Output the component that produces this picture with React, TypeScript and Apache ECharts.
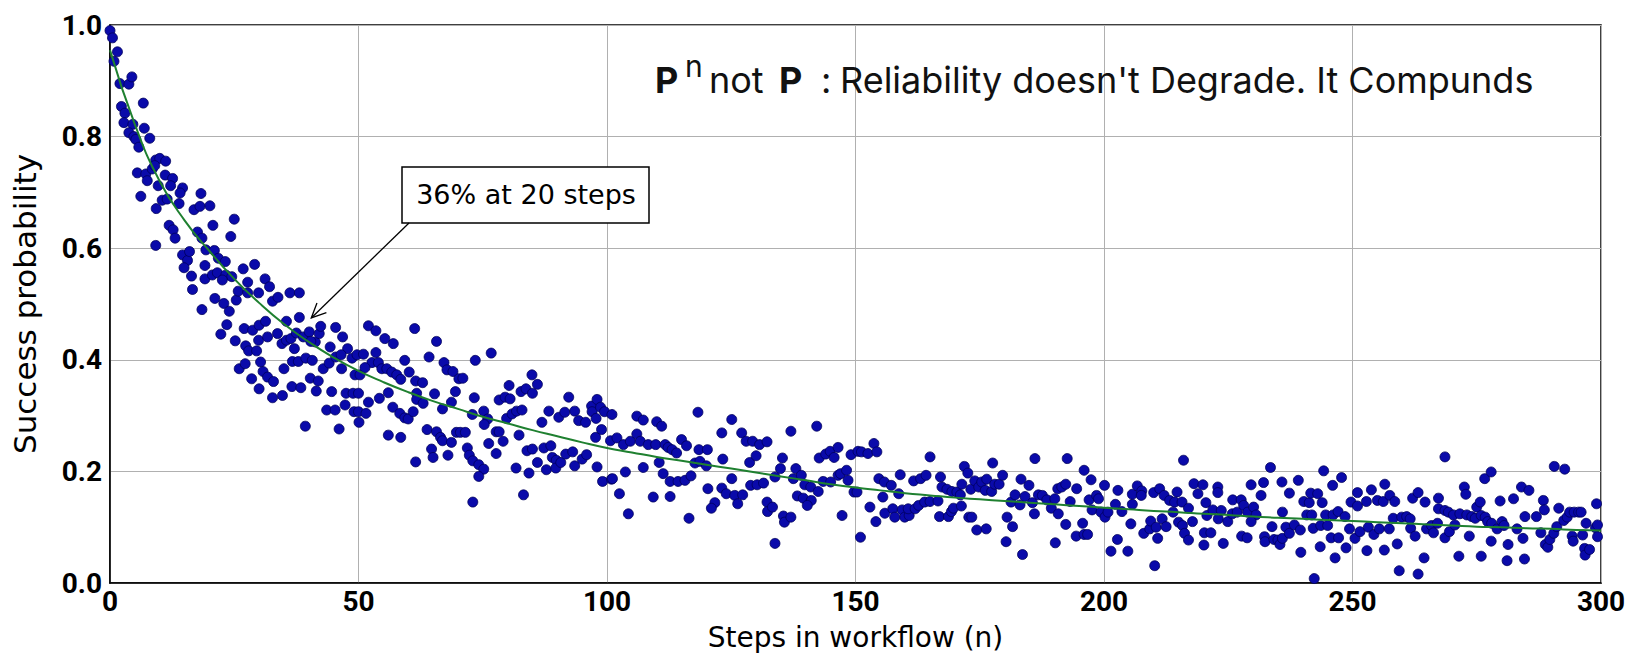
import { useEffect, useRef } from "react";
import * as echarts from "echarts";

// Axis ticks
const xTickValues = [0, 50, 100, 150, 200, 250, 300];
const yTickValues = [0, 0.2, 0.4, 0.6, 0.8, 1.0];

// Observed success rates [steps, probability], grouped by step range
const runsSteps0to50 = [
  [0, 0.99], [0.5, 0.977], [1.5, 0.952], [0.8, 0.935], [2, 0.895], [3.8, 0.894], [4.4, 0.907], [2.3, 0.854],
  [3, 0.842], [2.8, 0.825], [4.6, 0.822], [3.8, 0.807], [4.8, 0.8], [6.7, 0.86], [6.9, 0.815], [8, 0.797],
  [5.2, 0.795], [5.8, 0.781], [5.5, 0.735], [7.2, 0.733], [6.2, 0.693], [7.5, 0.721], [9.2, 0.758], [10, 0.761],
  [11.2, 0.756], [8.5, 0.742], [9, 0.748], [9.7, 0.712], [11.1, 0.731], [12.6, 0.725], [12.2, 0.712], [14.6, 0.708],
  [14.1, 0.699], [10.5, 0.686], [11.5, 0.688], [9.3, 0.671], [13.9, 0.68], [9.2, 0.605], [11.9, 0.641], [12.7, 0.633],
  [13.1, 0.618], [16.9, 0.669], [18.1, 0.675], [18.3, 0.698], [20.1, 0.676], [20.7, 0.641], [25, 0.652], [24.3, 0.621],
  [17.6, 0.629], [18.5, 0.618], [14.6, 0.588], [15.6, 0.578], [14.9, 0.565], [16, 0.594], [16.4, 0.55], [16.6, 0.526],
  [19.3, 0.597], [21, 0.596], [19.1, 0.569], [19.1, 0.545], [20.6, 0.552], [21.8, 0.582], [23.2, 0.576], [21.6, 0.556],
  [23.3, 0.552], [24.5, 0.549], [22.6, 0.543], [21.1, 0.51], [22.9, 0.501], [24, 0.487], [23.5, 0.463], [18.5, 0.49],
  [22.3, 0.446], [25.4, 0.507], [25.8, 0.523], [26.8, 0.563], [29.1, 0.571], [27.7, 0.539], [27.7, 0.52], [29.9, 0.52],
  [31.2, 0.545], [32.1, 0.531], [32.7, 0.505], [33.8, 0.512], [36.2, 0.52], [38.1, 0.52], [38.1, 0.476], [35.5, 0.469],
  [25.2, 0.434], [27, 0.456], [28.7, 0.453], [30, 0.462], [31.3, 0.469], [29.9, 0.435], [31.7, 0.441], [33.7, 0.447],
  [34.6, 0.429], [27.3, 0.425], [27.9, 0.416], [29.5, 0.416], [26, 0.384], [27.2, 0.393], [30.3, 0.396], [28.5, 0.366],
  [30.8, 0.379], [31.7, 0.369], [32.9, 0.361], [30, 0.348], [32.7, 0.332], [34.7, 0.336], [35, 0.384], [35.5, 0.435],
  [36.4, 0.438], [37.1, 0.42], [36.7, 0.397], [37.9, 0.397], [39.4, 0.403], [40.7, 0.399], [37.5, 0.448], [38.9, 0.441],
  [40.1, 0.45], [41.3, 0.432], [42.1, 0.447], [42.4, 0.46], [40.4, 0.433], [36.6, 0.352], [38.4, 0.35], [39.3, 0.281],
  [40.3, 0.367], [41.9, 0.362], [41.5, 0.344], [42.9, 0.384], [44.1, 0.394], [45.4, 0.458], [46.8, 0.441], [47.8, 0.42],
  [44.3, 0.423], [45.4, 0.405], [46.6, 0.384], [46.5, 0.409], [48.7, 0.403], [49.7, 0.409], [44.6, 0.343], [43.6, 0.31],
  [45.3, 0.31], [46.1, 0.276], [47.5, 0.34], [48.9, 0.34], [47.3, 0.319], [49.1, 0.307], [49.3, 0.373], [50.1, 0.288],
];

const runsSteps50to100 = [
  [51, 0.41], [50.3, 0.373], [50, 0.34], [50, 0.307], [51.5, 0.304], [52, 0.461], [53.5, 0.452], [55.3, 0.438],
  [57, 0.429], [53.5, 0.413], [52.7, 0.395], [51.3, 0.386], [54, 0.395], [54.7, 0.384], [55.7, 0.384], [56.7, 0.378],
  [57.7, 0.373], [58.5, 0.365], [59.3, 0.399], [60.2, 0.378], [61.3, 0.456], [61.5, 0.362], [62.9, 0.359], [52, 0.324],
  [54.2, 0.331], [56, 0.341], [56.9, 0.315], [58.3, 0.304], [59.3, 0.296], [60, 0.294], [61, 0.307], [61.7, 0.34],
  [61.7, 0.329], [63, 0.322], [56, 0.265], [58.5, 0.261], [61.5, 0.217], [64.2, 0.405], [65.7, 0.433], [65.3, 0.339],
  [63.8, 0.275], [65.7, 0.271], [66.5, 0.261], [66.9, 0.255], [66.9, 0.312], [64.7, 0.24], [65, 0.225], [67.2, 0.395],
  [67.8, 0.382], [69, 0.379], [70.2, 0.366], [71, 0.367], [69.5, 0.343], [68.7, 0.324], [68.7, 0.252], [68, 0.229],
  [69.7, 0.27], [70.5, 0.27], [71.5, 0.27], [71.9, 0.242], [72.3, 0.229], [73, 0.219], [74.2, 0.212], [75.2, 0.204],
  [74.2, 0.191], [73, 0.145], [73.3, 0.332], [73.5, 0.399], [72.9, 0.302], [75.2, 0.308], [76, 0.294], [75.3, 0.284],
  [76.7, 0.412], [76.2, 0.25], [77.7, 0.271], [78.3, 0.271], [79.1, 0.254], [77.7, 0.232], [78.3, 0.328], [79.5, 0.333],
  [80.3, 0.354], [80.5, 0.33], [79.8, 0.295], [80.9, 0.303], [81.8, 0.308], [82.3, 0.265], [81.7, 0.206], [82.9, 0.31],
  [82.7, 0.343], [83.7, 0.348], [84.9, 0.373], [85, 0.34], [86, 0.356], [83.2, 0.158], [83.9, 0.237], [85, 0.24],
  [86, 0.216], [84.3, 0.197], [86.9, 0.288], [87.3, 0.242], [87.8, 0.203], [88.3, 0.308], [88.7, 0.246], [89, 0.225],
  [89.8, 0.22], [89.7, 0.206], [90.3, 0.297], [90.7, 0.216], [91.7, 0.231], [92.3, 0.333], [91.5, 0.306], [93.1, 0.235],
  [93.5, 0.21], [93.5, 0.308], [94.3, 0.291], [95, 0.222], [95.7, 0.288], [95.9, 0.23], [96.9, 0.317], [97, 0.307],
  [98, 0.329], [97.8, 0.295], [97.7, 0.261], [98, 0.208], [98.7, 0.315], [98.9, 0.275], [99.1, 0.182], [99.5, 0.307],
  [100.7, 0.255], [100.9, 0.186],
];

const runsSteps100to150 = [
  [102, 0.26], [101, 0.302], [101.1, 0.187], [102.5, 0.16], [103.7, 0.199], [104.3, 0.124], [103.3, 0.248], [104.7, 0.254],
  [106, 0.299], [107.3, 0.292], [106, 0.267], [106.7, 0.254], [107.3, 0.207], [108.3, 0.248], [110, 0.289], [111, 0.281],
  [109.8, 0.248], [110.5, 0.216], [111.3, 0.196], [111.7, 0.248], [112.3, 0.243], [113.1, 0.239], [114, 0.233], [112.7, 0.182],
  [114.3, 0.182], [109.3, 0.154], [112.7, 0.155], [115, 0.257], [116, 0.246], [115.7, 0.184], [116.9, 0.192], [116.5, 0.116],
  [118.3, 0.306], [118.5, 0.239], [120.2, 0.239], [117.7, 0.215], [118.7, 0.218], [120, 0.21], [120.3, 0.169], [121.7, 0.144],
  [121, 0.134], [123.1, 0.269], [123.3, 0.222], [123.1, 0.17], [124, 0.16], [125.1, 0.293], [125.1, 0.187], [125.7, 0.157],
  [126.3, 0.142], [127.3, 0.158], [127.1, 0.269], [128, 0.254], [129.3, 0.254], [130.7, 0.248], [132.2, 0.253], [128.7, 0.216],
  [130, 0.228], [128.9, 0.175], [130.2, 0.176], [131.5, 0.179], [132.2, 0.145], [132.3, 0.128], [133.3, 0.136], [133.8, 0.071],
  [133.8, 0.19], [134.9, 0.205], [135.3, 0.224], [135.5, 0.12], [135.7, 0.109], [137, 0.118], [137, 0.272], [137.5, 0.187],
  [138, 0.205], [138.3, 0.156], [139.1, 0.193], [139.5, 0.152], [139.8, 0.176], [141.1, 0.148], [140.3, 0.139], [141, 0.172],
  [142.2, 0.281], [142.5, 0.164], [142.7, 0.224], [143.5, 0.182], [144, 0.231], [144.9, 0.236], [145, 0.181], [145.7, 0.225],
  [146.5, 0.243], [146.5, 0.193], [147.3, 0.121], [147, 0.196], [148.2, 0.202], [148.5, 0.184], [149.1, 0.23], [149.7, 0.163],
  [150.5, 0.236], [150.3, 0.163], [151, 0.082],
];

const runsSteps150to200 = [
  [151.2, 0.235], [152.5, 0.232], [153.7, 0.25], [154.3, 0.235], [154.7, 0.187], [155.8, 0.181], [157.2, 0.175], [155.5, 0.154],
  [152.9, 0.136], [154.1, 0.11], [155.9, 0.125], [157.5, 0.133], [157.9, 0.118], [159, 0.194], [158.7, 0.16], [159.4, 0.131],
  [159.9, 0.118], [160.8, 0.121], [160.6, 0.133], [161.7, 0.183], [162, 0.133], [162.7, 0.139], [163.1, 0.187], [163.9, 0.145],
  [164.2, 0.193], [165, 0.146], [165, 0.226], [166.6, 0.147], [167.1, 0.19], [166.9, 0.119], [167.4, 0.172], [168.4, 0.168],
  [168.7, 0.119], [169.3, 0.128], [169.4, 0.164], [169.7, 0.134], [170.4, 0.163], [171.1, 0.158], [171.3, 0.138], [171.4, 0.177],
  [171.9, 0.209], [172.6, 0.197], [172.8, 0.118], [173.4, 0.118], [173.2, 0.168], [174, 0.183], [174.4, 0.095], [174.8, 0.172],
  [175.4, 0.181], [176.1, 0.166], [176.3, 0.097], [176.4, 0.186], [177.4, 0.164], [177.6, 0.215], [178, 0.177], [178.9, 0.177],
  [179.6, 0.193], [180.5, 0.118], [180.3, 0.074], [181.3, 0.145], [181.6, 0.101], [182.1, 0.158], [183.1, 0.14], [183.3, 0.186],
  [183.6, 0.051], [184.1, 0.155], [184.9, 0.175], [185.6, 0.144], [186.1, 0.223], [186, 0.124], [186.8, 0.158], [187.6, 0.157],
  [188.5, 0.149], [189.4, 0.134], [190.1, 0.151], [190.2, 0.072], [190.8, 0.124], [190.7, 0.169], [191.5, 0.172], [192.3, 0.177],
  [192.3, 0.105], [192.6, 0.223], [193.2, 0.146], [194.5, 0.169], [194.4, 0.084], [195.7, 0.107], [196, 0.202], [196, 0.087],
  [196.7, 0.087], [197, 0.149], [197.4, 0.185], [197.6, 0.131], [198.5, 0.157], [198.9, 0.151], [199.4, 0.127], [200.1, 0.175],
  [200.2, 0.118], [201.4, 0.057],
];

const runsSteps200to250 = [
  [200.8, 0.127], [202.3, 0.141], [202.8, 0.166], [202.7, 0.078], [203.6, 0.128], [204.8, 0.057], [205.4, 0.106], [205.7, 0.141],
  [205.7, 0.159], [206.7, 0.174], [207.6, 0.165], [207.5, 0.157], [208, 0.089], [209.2, 0.097], [209.4, 0.111], [210, 0.162],
  [210.2, 0.031], [210.5, 0.1], [210.8, 0.08], [211.2, 0.169], [211.7, 0.115], [212.1, 0.157], [212.5, 0.101], [213.2, 0.148],
  [213.9, 0.127], [214.2, 0.145], [214.7, 0.163], [215, 0.109], [215.7, 0.145], [216, 0.22], [215.8, 0.103], [216.2, 0.089],
  [217, 0.077], [217, 0.134], [217.8, 0.11], [218.1, 0.178], [218.9, 0.16], [219.9, 0.176], [220.1, 0.068], [220.2, 0.09],
  [220.5, 0.144], [220.7, 0.121], [221.5, 0.09], [221.9, 0.131], [222.9, 0.172], [222.9, 0.162], [223, 0.115], [223.6, 0.13],
  [224, 0.071], [224.9, 0.11], [225.9, 0.149], [225.8, 0.124], [226.8, 0.127], [227.6, 0.149], [227.7, 0.084], [228.1, 0.139],
  [228.8, 0.081], [228.9, 0.127], [229.6, 0.176], [230.1, 0.136], [230.6, 0.122], [229.6, 0.11], [231.6, 0.157], [232.1, 0.18],
  [232.3, 0.083], [232.4, 0.074], [233.5, 0.207], [233.8, 0.101], [234.2, 0.078], [235, 0.077], [235.4, 0.069], [235.9, 0.08],
  [235.8, 0.181], [235.9, 0.127], [236.6, 0.1], [237.3, 0.089], [237.3, 0.161], [238.3, 0.104], [239.1, 0.184], [239.5, 0.095],
  [239.6, 0.055], [240.2, 0.146], [240.8, 0.122], [241.3, 0.144], [241.6, 0.161], [241.8, 0.122], [242.1, 0.098], [242.3, 0.008],
  [243, 0.16], [243.5, 0.065], [243.6, 0.103], [243.9, 0.144], [244.2, 0.201], [244.6, 0.122], [245, 0.103], [245.7, 0.081],
  [246, 0.175], [246.1, 0.122], [246.5, 0.045], [247.1, 0.128], [247.2, 0.081], [247.8, 0.189], [248.5, 0.119], [248.7, 0.063],
  [249.4, 0.097], [249.7, 0.145], [250.5, 0.08], [251, 0.162], [251, 0.138], [251.5, 0.092],
];

const runsSteps250to300 = [
  [252.8, 0.146], [252.9, 0.058], [253.2, 0.1], [253.8, 0.167], [254.3, 0.087], [255, 0.148], [255.4, 0.097], [256.2, 0.146],
  [256.5, 0.177], [256.4, 0.059], [257.4, 0.097], [257.5, 0.157], [258.2, 0.116], [258.5, 0.146], [259, 0.07], [259.4, 0.022],
  [259.9, 0.118], [260.9, 0.119], [261.6, 0.115], [261.7, 0.098], [262.1, 0.152], [262.6, 0.084], [263.2, 0.162], [263.2, 0.016],
  [264.4, 0.045], [264.6, 0.145], [264.9, 0.097], [265.9, 0.103], [266.3, 0.09], [267.1, 0.107], [267.3, 0.152], [267.3, 0.133],
  [268.6, 0.226], [268.6, 0.13], [268.6, 0.081], [269.5, 0.092], [269.3, 0.127], [270.3, 0.122], [270.6, 0.104], [271.4, 0.048],
  [271.6, 0.124], [272.5, 0.172], [272.8, 0.159], [273, 0.122], [273.5, 0.084], [274, 0.119], [274.7, 0.116], [275, 0.136],
  [275.7, 0.145], [275.9, 0.048], [275.9, 0.121], [276.6, 0.187], [276.7, 0.118], [277.2, 0.11], [277.9, 0.199], [277.9, 0.075],
  [278, 0.107], [279.1, 0.097], [279.7, 0.147], [280.1, 0.11], [280.5, 0.103], [281.1, 0.04], [281.3, 0.069], [282.4, 0.151],
  [283.1, 0.097], [284, 0.172], [284.3, 0.08], [284.6, 0.043], [284.7, 0.119], [285.5, 0.166], [287, 0.119], [287.9, 0.09],
  [288.4, 0.148], [288.6, 0.131], [288.8, 0.069], [289.3, 0.064], [289.7, 0.078], [290.5, 0.089], [290.6, 0.209], [291.5, 0.134],
  [291.1, 0.101], [292.7, 0.204], [292.5, 0.112], [293.2, 0.118], [293.7, 0.127], [294.2, 0.084], [294.4, 0.075], [294.6, 0.127],
  [295.5, 0.127], [296, 0.127], [296.3, 0.086], [296.7, 0.062], [296.8, 0.05], [297, 0.107], [297.7, 0.06], [298.9, 0.099],
  [299.1, 0.142], [299.3, 0.083], [299.3, 0.104],
];

// Fitted trend, sampled every 5 steps
const fitSteps = [
  0, 5, 10, 15, 20, 25, 30, 35, 40, 45, 50, 55, 60, 65, 70, 75, 80, 85, 90, 95, 100,
  105, 110, 115, 120, 125, 130, 135, 140, 145, 150, 155, 160, 165, 170, 175, 180, 185, 190, 195, 200,
  205, 210, 215, 220, 225, 230, 235, 240, 245, 250, 255, 260, 265, 270, 275, 280, 285, 290, 295, 300,
];
const fitValues = [
  0.955, 0.822, 0.72, 0.65, 0.595, 0.545, 0.502, 0.464, 0.432, 0.404, 0.38, 0.36, 0.342, 0.326, 0.312, 0.298, 0.286, 0.274, 0.263, 0.252, 0.242,
  0.234, 0.226, 0.219, 0.212, 0.205, 0.198, 0.191, 0.184, 0.177, 0.171, 0.166, 0.161, 0.157, 0.153, 0.15, 0.147, 0.144, 0.141, 0.138, 0.135,
  0.132, 0.129, 0.127, 0.124, 0.122, 0.119, 0.117, 0.115, 0.113, 0.111, 0.109, 0.107, 0.105, 0.103, 0.101, 0.1, 0.098, 0.097, 0.095, 0.094,
];

// Callout
const calloutText = "36% at 20 steps";
const calloutTarget = [40.5, 0.475];

const TICK_FONT = "Roboto, 'DejaVu Sans', sans-serif";
const NAME_FONT = "'DejaVu Sans', sans-serif";
const HEAD_FONT = "Inter, 'DejaVu Sans', sans-serif";

export default function App() {
  const ref = useRef<HTMLDivElement>(null);

  useEffect(() => {
    if (!ref.current) return;
    const chart = echarts.init(ref.current, null, { renderer: "svg" });

    const runs = [
      ...runsSteps0to50,
      ...runsSteps50to100,
      ...runsSteps100to150,
      ...runsSteps150to200,
      ...runsSteps200to250,
      ...runsSteps250to300,
    ];
    const fit = fitSteps.map((s, i) => [s, fitValues[i]]);

    chart.setOption({
      animation: false,
      backgroundColor: "#ffffff",
      grid: {
        left: 110,
        right: 31,
        top: 25,
        bottom: 72,
        show: true,
        borderColor: "#000000",
        borderWidth: 1.5,
        backgroundColor: "transparent",
      },
      xAxis: {
        type: "value",
        min: xTickValues[0],
        max: xTickValues[xTickValues.length - 1],
        interval: xTickValues[1] - xTickValues[0],
        name: "Steps in workflow (n)",
        nameLocation: "middle",
        nameGap: 40,
        nameTextStyle: { fontFamily: NAME_FONT, fontSize: 28, color: "#000" },
        axisLine: { show: true, lineStyle: { color: "#000", width: 1.5 } },
        axisTick: { show: false },
        axisLabel: {
          margin: 4,
          fontFamily: TICK_FONT,
          fontWeight: "bold",
          fontSize: 28,
          color: "#000",
          formatter: (v: number) => String(v),
        },
        splitLine: { show: true, lineStyle: { color: "#b0b0b0", width: 1 } },
      },
      yAxis: {
        type: "value",
        min: yTickValues[0],
        max: yTickValues[yTickValues.length - 1],
        interval: yTickValues[1] - yTickValues[0],
        name: "Success probability",
        nameLocation: "middle",
        nameGap: 70,
        nameTextStyle: { fontFamily: NAME_FONT, fontSize: 31, color: "#000" },
        axisLine: { show: true, lineStyle: { color: "#000", width: 1.5 } },
        axisTick: { show: false },
        axisLabel: {
          margin: 8,
          fontFamily: TICK_FONT,
          fontWeight: "bold",
          fontSize: 28,
          color: "#000",
          formatter: (v: number) => v.toFixed(1),
        },
        splitLine: { show: true, lineStyle: { color: "#b0b0b0", width: 1 } },
      },
      series: [
        {
          type: "scatter",
          name: "Observed",
          data: runs,
          symbol: "circle",
          symbolSize: 10,
          itemStyle: { color: "#0a0aaa", borderColor: "#00005a", borderWidth: 0.8, opacity: 1 },
          z: 2,
        },
        {
          type: "line",
          name: "Fit",
          data: fit,
          smooth: true,
          showSymbol: false,
          lineStyle: { color: "#1f8030", width: 2 },
          z: 3,
        },
      ],
    });

    // Callout arrow anchored in data space
    const tip = chart.convertToPixel({ gridIndex: 0 }, calloutTarget) as number[];
    const start = [409, 223];
    const ang = Math.atan2(start[1] - tip[1], start[0] - tip[0]);
    const armLen = 16;
    const spread = (25 * Math.PI) / 180;
    const arm1 = [tip[0] + armLen * Math.cos(ang + spread), tip[1] + armLen * Math.sin(ang + spread)];
    const arm2 = [tip[0] + armLen * Math.cos(ang - spread), tip[1] + armLen * Math.sin(ang - spread)];

    const headText = (text: string, x: number, y: number, font: string) => ({
      type: "text",
      x,
      y,
      z: 50,
      style: { text, font, fill: "#111", align: "left", verticalAlign: "middle" },
    });

    chart.setOption({
      graphic: [
        // Heading
        headText("P", 655, 80, `bold 36px ${HEAD_FONT}`),
        headText("n", 685, 66, `30px ${HEAD_FONT}`),
        headText("not", 709, 80, `36px ${HEAD_FONT}`),
        headText("P", 779, 80, `bold 36px ${HEAD_FONT}`),
        headText(":", 821, 80, `36px ${HEAD_FONT}`),
        headText("Reliability doesn't Degrade. It Compunds", 840, 80, `36px ${HEAD_FONT}`),
        // Callout box
        {
          type: "rect",
          z: 60,
          shape: { x: 402, y: 167, width: 247, height: 56 },
          style: { fill: "#ffffff", stroke: "#000", lineWidth: 1.5 },
        },
        {
          type: "text",
          x: 526,
          y: 194,
          z: 61,
          style: { text: calloutText, font: `27px ${NAME_FONT}`, fill: "#000", align: "center", verticalAlign: "middle" },
        },
        {
          type: "line",
          z: 60,
          shape: { x1: start[0], y1: start[1], x2: tip[0], y2: tip[1] },
          style: { stroke: "#000", lineWidth: 1.3 },
        },
        {
          type: "polyline",
          z: 60,
          shape: { points: [arm1, tip, arm2] },
          style: { stroke: "#000", lineWidth: 1.3, fill: "none" },
        },
      ],
    });

    return () => chart.dispose();
  }, []);

  return (
    <div
      ref={ref}
      style={{ position: "fixed", left: 0, top: 0, width: 1632, height: 656, background: "#ffffff" }}
    />
  );
}
